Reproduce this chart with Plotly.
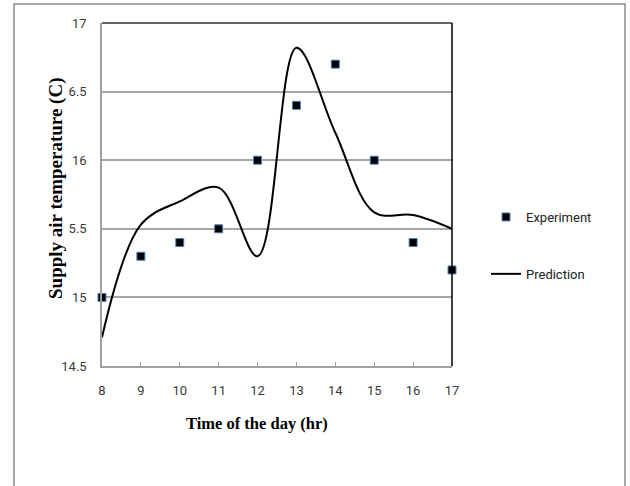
import plotly.graph_objects as go

hours = [8, 9, 10, 11, 12, 13, 14, 15, 16, 17]
experiment = [15.0, 15.30, 15.40, 15.50, 16.0, 16.40, 16.70, 16.0, 15.40, 15.20]
prediction = [14.71, 15.53, 15.70, 15.80, 15.30, 16.82, 16.20, 15.62, 15.60, 15.50]
y_tickvals = [14.5, 15, 15.5, 16, 16.5, 17]
y_ticktext = ["14.5", "15", "5.5", "16", "6.5", "17"]
x_tickvals = hours

W, H = 630, 486
L, T, R, B = 102, 23, 452, 366  # plot area in pixels
PW, PH = R - L, B - T


def px(x):
    return (x - L) / PW


def py(y):
    return (B - y) / PH


fig = go.Figure()
fig.add_trace(go.Scatter(
    x=hours, y=experiment, mode="markers", name="Experiment",
    legendgroup="a",
    marker=dict(symbol="square", size=8, color="black",
                line=dict(color="#4f81bd", width=1)),
    cliponaxis=False,
))
fig.add_trace(go.Scatter(
    x=hours, y=prediction, mode="lines", name="Prediction",
    legendgroup="b",
    line=dict(color="black", width=2, shape="spline", smoothing=1),
))

sans = "Roboto, Liberation Sans, sans-serif"
tickfont = dict(family=sans, size=13, color="#3a3a3a")

fig.update_layout(
    width=W, height=H,
    margin=dict(l=L, r=W - R, t=T, b=H - B, pad=0),
    paper_bgcolor="white", plot_bgcolor="white",
    showlegend=True,
    legend=dict(x=px(486), y=py(202), xanchor="left", yanchor="top",
                font=dict(family=sans, size=13, color="#222"),
                tracegroupgap=37, bgcolor="rgba(0,0,0,0)", borderwidth=0),
    xaxis=dict(range=[8, 17], tickvals=x_tickvals, ticktext=[str(h) for h in x_tickvals],
               showgrid=False, zeroline=False, showline=True, linecolor="#a0a0a0", linewidth=1.5,
               ticks="inside", ticklen=4, tickcolor="#a0a0a0", tickwidth=1,
               tickfont=tickfont, ticklabelstandoff=12),
    yaxis=dict(range=[14.5, 17], tickvals=y_tickvals, ticktext=y_ticktext,
               showgrid=True, gridcolor="#a6a6a6", gridwidth=1.5, zeroline=False,
               showline=True, linecolor="#a0a0a0", linewidth=1.5,
               ticks="", tickfont=tickfont, ticklabelstandoff=11),
    annotations=[
        dict(text="<b>Time of the day (hr)</b>", x=px(257), y=py(423), xref="paper", yref="paper",
             showarrow=False, xanchor="center", yanchor="middle",
             font=dict(family="Liberation Serif, Times New Roman, serif", size=16.5, color="black")),
        dict(text="<b>Supply air temperature (C)</b>", x=px(56), y=py(189), xref="paper", yref="paper",
             showarrow=False, xanchor="center", yanchor="middle", textangle=-90,
             font=dict(family="Liberation Serif, Times New Roman, serif", size=19, color="black")),
    ],
    shapes=[
        # outer chart border
        dict(type="rect", xref="paper", yref="paper", x0=px(14), x1=px(625), y0=py(495), y1=py(4),
             line=dict(color="#8c8c8c", width=1.5), layer="below"),
        # top and right plot-area border
        dict(type="line", xref="paper", yref="paper", x0=0, x1=1, y0=1, y1=1,
             line=dict(color="#303030", width=1.5)),
        dict(type="line", xref="paper", yref="paper", x0=1, x1=1, y0=0, y1=1,
             line=dict(color="black", width=1.5)),
    ],
)

fig.write_html("out.html")
